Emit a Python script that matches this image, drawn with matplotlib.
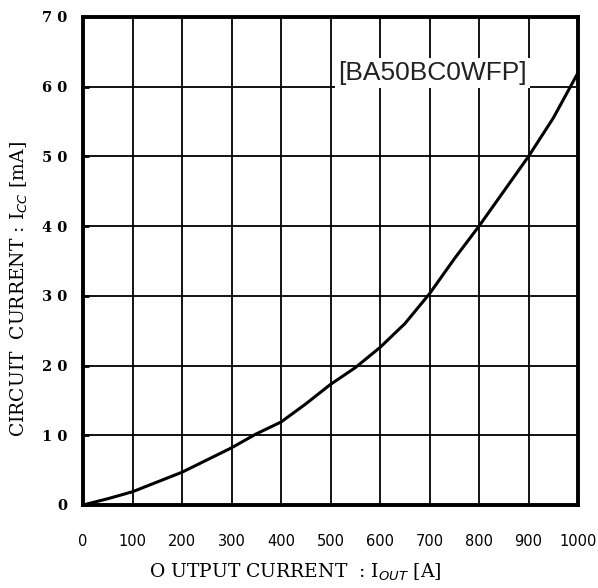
import matplotlib
matplotlib.use("Agg")
import matplotlib.pyplot as plt

# Data
output_current = [0, 50, 100, 200, 300, 350, 400, 450, 500, 550, 600, 650, 700, 750, 800, 850, 900, 950, 1000]
circuit_current = [0, 0.9, 1.9, 4.7, 8.2, 10.2, 11.9, 14.5, 17.3, 19.7, 22.6, 26.0, 30.3, 35.3, 40.0, 45.0, 50.0, 55.5, 62.0]
x_ticks = [0, 100, 200, 300, 400, 500, 600, 700, 800, 900, 1000]
y_ticks = [0, 10, 20, 30, 40, 50, 60, 70]

fig = plt.figure(figsize=(5.98, 5.88), dpi=100)
ax = fig.add_axes([83/598, 1 - 505/588, (578 - 83)/598, (505 - 17)/588])

ax.plot(output_current, circuit_current, color="black", linewidth=2.2)
ax.set_xlim(0, 1000)
ax.set_ylim(0, 70)
ax.set_xticks(x_ticks)
ax.set_yticks(y_ticks)
ax.grid(True, color="black", linewidth=1.3)
for s in ax.spines.values():
    s.set_linewidth(2.8)
    s.set_color("black")

ax.set_xticklabels([str(v) for v in x_ticks])
ax.set_yticklabels([" ".join(str(v)) for v in y_ticks])
for t in ax.get_xticklabels():
    t.set_family(["Liberation Sans Narrow", "DejaVu Sans"])
    t.set_fontsize(10.5)
for t in ax.get_yticklabels():
    t.set_family("DejaVu Serif")
    t.set_fontsize(10.5)
    t.set_weight("bold")
ax.tick_params(axis="x", direction="in", length=0, pad=21)
ax.tick_params(axis="y", direction="in", length=4, width=2, pad=11)

ax.set_xlabel("O UTPUT CURRENT  : I$_{OUT}$ [A]", family="DejaVu Serif", fontsize=13.5)
ax.set_ylabel("CIRCUIT  CURRENT : I$_{CC}$ [mA]", family="DejaVu Serif", fontsize=13.5)
ax.xaxis.set_label_coords(0.428, -0.117)
ax.yaxis.set_label_coords(-0.107, 0.443)

ax.text(0.897, 0.885, "[BA50BC0WFP]", transform=ax.transAxes, ha="right", va="center",
        family="Liberation Sans", fontsize=19, color="#222222",
        bbox=dict(facecolor="white", edgecolor="none", pad=2))

fig.savefig("out.png", dpi=100)
